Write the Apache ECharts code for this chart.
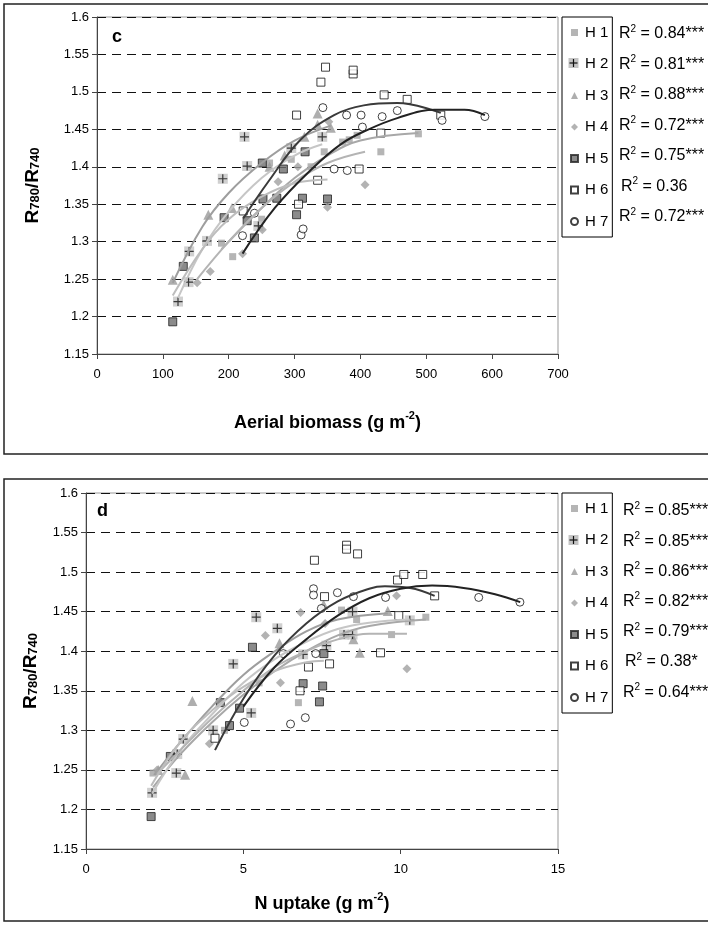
<!DOCTYPE html>
<html><head><meta charset="utf-8">
<script src="https://cdn.jsdelivr.net/npm/echarts@6/dist/echarts.min.js"></script>
<style>html,body{margin:0;padding:0;background:#fff}#c{width:708px;height:925px}</style>
</head><body><div id="c"></div>
<script>
// ---------- DATA ----------
const names = ['H 1','H 2','H 3','H 4','H 5','H 6','H 7'];
const r2Top = ['0.84***','0.81***','0.88***','0.72***','0.75***','0.36','0.72***'];
const r2Bot = ['0.85***','0.85***','0.86***','0.82***','0.79***','0.38*','0.64***'];

// Panel c: aerial biomass (g m-2) vs R780/R740
const h1Top = [[189,1.298],[206,1.28],[250,1.33],[262,1.405],[295,1.41],[325,1.40],[345,1.42],[373,1.433],[383,1.436],[395,1.442],[431,1.42],[488,1.444]];
const h2Top = [[123,1.22],[139,1.246],[140,1.287],[167,1.301],[191,1.384],[224,1.44],[228,1.401],[245,1.321],[295,1.425],[342,1.44]];
const h3Top = [[115,1.249],[169,1.336],[205,1.345],[262,1.40],[285,1.415],[315,1.44],[335,1.456],[335,1.471],[355,1.452]];
const h4Top = [[152,1.245],[172,1.26],[221,1.284],[251,1.316],[275,1.38],[305,1.40],[350,1.346],[352,1.46],[407,1.376]];
const h5Top = [[115,1.193],[131,1.267],[193,1.332],[228,1.328],[239,1.305],[251,1.405],[252,1.357],[273,1.358],[283,1.397],[303,1.336],[312,1.358],[316,1.42],[350,1.357]];
const h6Top = [[222,1.341],[303,1.469],[306,1.35],[335,1.382],[340,1.513],[347,1.533],[389,1.524],[389,1.529],[398,1.397],[431,1.445],[436,1.496],[471,1.49],[522,1.469]];
const h7Top = [[221,1.308],[239,1.338],[310,1.309],[313,1.317],[343,1.479],[360,1.397],[379,1.469],[380,1.395],[401,1.469],[403,1.453],[433,1.467],[456,1.475],[524,1.462],[589,1.467]];
// trend curves
const fit1Top = [[189,1.29],[250,1.345],[300,1.385],[350,1.415],[400,1.435],[488,1.445]];
const fit2Top = [[123,1.225],[160,1.29],[200,1.34],[250,1.385],[300,1.415],[342,1.43]];
const fit3Top = [[115,1.245],[160,1.32],[200,1.365],[250,1.405],[300,1.435],[355,1.455]];
const fit4Top = [[152,1.25],[200,1.30],[250,1.345],[300,1.38],[350,1.405],[407,1.42]];
const fit5Top = [[115,1.228],[160,1.29],[200,1.33],[250,1.36],[300,1.378],[350,1.383]];
const fit6Top = [[222,1.331],[260,1.38],[309,1.436],[360,1.469],[405,1.482],[456,1.485],[522,1.472]];
const fit7Top = [[221,1.284],[270,1.345],[325,1.396],[370,1.43],[410,1.449],[456,1.465],[512,1.476],[558,1.476],[589,1.469]];

// Panel d: N uptake (g m-2) vs R780/R740
const h1Bot = [[2.13,1.246],[4.4,1.3],[5.5,1.36],[6.75,1.335],[8.12,1.452],[8.6,1.44],[9.71,1.421],[10.8,1.443]];
const h2Bot = [[2.1,1.221],[2.87,1.246],[2.9,1.27],[3.09,1.289],[4.04,1.30],[4.68,1.384],[5.25,1.322],[5.41,1.443],[6.08,1.429],[6.9,1.396],[7.64,1.407],[8.2,1.421],[8.47,1.45],[8.47,1.421],[10.29,1.439]];
const h3Bot = [[2.3,1.25],[3.15,1.244],[3.38,1.337],[6.15,1.41],[7.55,1.459],[8.5,1.415],[8.7,1.398],[9.59,1.451]];
const h4Bot = [[2.26,1.25],[3.92,1.283],[5.7,1.42],[6.18,1.36],[6.82,1.449],[7.6,1.435],[9.87,1.47],[10.2,1.378]];
const h5Bot = [[2.07,1.191],[2.68,1.267],[4.27,1.335],[4.56,1.306],[4.88,1.328],[5.29,1.405],[6.9,1.359],[7.42,1.336],[7.52,1.356],[7.56,1.397]];
const h6Bot = [[4.1,1.29],[6.8,1.35],[7.07,1.38],[7.26,1.515],[7.58,1.469],[7.74,1.384],[8.28,1.534],[8.28,1.529],[8.63,1.523],[9.36,1.398],[9.9,1.49],[9.94,1.445],[10.1,1.497],[10.7,1.497],[11.08,1.47]];
const h7Bot = [[5.03,1.31],[6.27,1.397],[6.5,1.308],[6.97,1.316],[7.23,1.479],[7.23,1.471],[7.3,1.397],[7.48,1.454],[7.99,1.474],[8.5,1.469],[9.52,1.468],[12.48,1.468],[13.79,1.462]];
const fit1Bot = [[2.13,1.228],[3,1.27],[4,1.31],[5,1.345],[6,1.375],[7,1.4],[8,1.42],[9,1.432],[10.8,1.44]];
const fit2Bot = [[2.1,1.22],[3,1.275],[4,1.32],[5,1.36],[6,1.39],[7,1.412],[8,1.428],[9,1.436],[10.29,1.44]];
const fit3Bot = [[2.3,1.25],[3,1.285],[4,1.33],[5,1.37],[6,1.4],[7,1.425],[8,1.44],[9.59,1.448]];
const fit4Bot = [[2.26,1.245],[3,1.275],[4,1.315],[5,1.35],[6,1.38],[7,1.4],[8,1.415],[9,1.422],[10.2,1.422]];
const fit5Bot = [[2.07,1.23],[3,1.285],[4,1.325],[5,1.355],[6,1.375],[7,1.386],[7.56,1.388]];
const fit6Bot = [[4.1,1.275],[5,1.34],[6,1.395],[7,1.435],[8,1.463],[9,1.479],[9.5,1.482],[10.3,1.48],[11.08,1.47]];
const fit7Bot = [[5.0,1.33],[6,1.38],[7,1.415],[8,1.445],[9,1.467],[10,1.479],[11,1.483],[12,1.48],[13,1.472],[13.8,1.462]];

// ---------- STYLE ----------
const FONT = 'Liberation Sans, Arial, sans-serif';
const markerStyles = [
  {symbol:'rect', size:7, item:{color:'#a3a3a3'}},
  {symbol:'rect', size:10, item:{color:'#c4c4c4'}},
  {symbol:'triangle', size:10, item:{color:'#9a9a9a'}},
  {symbol:'diamond', size:9, item:{color:'#a0a0a0'}},
  {symbol:'rect', size:8, item:{color:'#6e6e6e', borderColor:'#222', borderWidth:1}},
  {symbol:'rect', size:8, item:{color:'#fff', borderColor:'#111', borderWidth:1}},
  {symbol:'circle', size:8, item:{color:'#fff', borderColor:'#111', borderWidth:1}}
];
const fitColors = ['#a8a8a8','#c6c6c6','#9e9e9e','#b4b4b4','#bdbdbd','#3a3a3a','#222'];

const topPts = [h1Top,h2Top,h3Top,h4Top,h5Top,h6Top,h7Top];
const topFits = [fit1Top,fit2Top,fit3Top,fit4Top,fit5Top,fit6Top,fit7Top];
const botPts = [h1Bot,h2Bot,h3Bot,h4Bot,h5Bot,h6Bot,h7Bot];
const botFits = [fit1Bot,fit2Bot,fit3Bot,fit4Bot,fit5Bot,fit6Bot,fit7Bot];

const series = [];
function addPanel(pts, fits, idx) {
  pts.forEach((d, i) => {
    const m = markerStyles[i];
    series.push({type:'scatter', name:names[i], xAxisIndex:idx, yAxisIndex:idx, data:d,
      symbol:m.symbol, symbolSize:m.size, itemStyle:m.item, z:2, silent:true});
    if (i === 1) {
      series.push({type:'scatter', name:names[i], xAxisIndex:idx, yAxisIndex:idx, data:d,
        symbol:'path://M0,5L10,5M5,0L5,10', symbolSize:9,
        itemStyle:{color:'rgba(0,0,0,0)', borderColor:'#111', borderWidth:1.2}, z:3, silent:true});
    }
  });
  fits.forEach((d, i) => {
    series.push({type:'line', name:'fit'+idx+'_'+i, xAxisIndex:idx, yAxisIndex:idx, data:d,
      smooth:0.4, showSymbol:false, symbol:'none', silent:true, z: i>=5 ? 5 : 4,
      lineStyle:{color:fitColors[i], width:2}});
  });
}
addPanel(topPts, topFits, 0);
addPanel(botPts, botFits, 1);

const grids = [
  {left:97, top:17, width:461, height:337},
  {left:86, top:493, width:472, height:356}
];
function yAx(gi, gap) {
  return {type:'value', gridIndex:gi, min:1.15, max:1.6, interval:0.05,
    axisLine:{show:true, lineStyle:{color:'#444', width:1}},
    axisTick:{show:true, inside:false, length:5, lineStyle:{color:'#444'}},
    axisLabel:{color:'#000', fontSize:13, fontFamily:FONT, margin:8, formatter:v=>String(+v.toFixed(2))},
    splitLine:{show:true, lineStyle:{color:'#111', type:[9,6], width:1}},
    name:'{b|R}{s|780}{b|/R}{s|740}', nameLocation:'middle', nameRotate:90, nameGap:gap,
    nameTextStyle:{rich:{b:{fontSize:19, fontWeight:'bold', fontFamily:FONT, color:'#000'},
      s:{fontSize:13, fontWeight:'bold', fontFamily:FONT, color:'#000', verticalAlign:'bottom'}}}
  };
}
function xAx(gi, max, interval, title, gap) {
  return {type:'value', gridIndex:gi, min:0, max:max, interval:interval,
    axisLine:{show:true, onZero:false, lineStyle:{color:'#444', width:1}},
    axisTick:{show:true, inside:false, length:5, lineStyle:{color:'#444'}},
    axisLabel:{color:'#000', fontSize:13, fontFamily:FONT, margin:14},
    splitLine:{show:false},
    name:title, nameLocation:'middle', nameGap:gap,
    nameTextStyle:{rich:{b:{fontSize:18, fontWeight:'bold', fontFamily:FONT, color:'#000', lineHeight:22, verticalAlign:'bottom'},
      s:{fontSize:11, fontWeight:'bold', fontFamily:FONT, color:'#000', lineHeight:12, verticalAlign:'top'}}}
  };
}

function legendFor(top) {
  return {left:562, top:top, orient:'vertical', data:names, selectedMode:false,
    itemWidth:7, itemHeight:7, itemGap:16.5, padding:[8,4,8,8],
    borderColor:'#000', borderWidth:1, backgroundColor:'#fff',
    textStyle:{fontSize:15, color:'#000', fontFamily:FONT, padding:[0,0,0,2]}};
}

const graphics = [];
// panel frames
graphics.push({type:'rect', shape:{x:4, y:4, width:720, height:450}, style:{fill:'none', stroke:'#222', lineWidth:1.5}, z:-10});
graphics.push({type:'rect', shape:{x:4, y:479, width:720, height:442}, style:{fill:'none', stroke:'#222', lineWidth:1.5}, z:-10});
graphics.push({type:'text', x:112, y:28, style:{text:'c', font:'bold 18px '+FONT, fill:'#000'}, z:10});
graphics.push({type:'text', x:97, y:502, style:{text:'d', font:'bold 18px '+FONT, fill:'#000'}, z:10});
function r2Texts(arr, x0, y0, step) {
  arr.forEach((t, i) => {
    graphics.push({type:'text', x:x0 + (t.indexOf('**')<0 ? 2 : 0), y:y0 + i*step,
      style:{text:'{r|R}{s|2}{r| = '+t+'}', rich:{
        r:{fontSize:16, fontFamily:FONT, fill:'#000', lineHeight:18, verticalAlign:'bottom'},
        s:{fontSize:10, fontFamily:FONT, fill:'#000', lineHeight:18, verticalAlign:'top'}},
        verticalAlign:'middle'}, z:10});
  });
}
r2Texts(r2Top, 619, 33, 30.5);
r2Texts(r2Bot, 623, 510, 30.2);
// H2 legend icon overlay (gray square with plus)
function plusIcon(cx, cy) {
  graphics.push({type:'rect', shape:{x:cx-5, y:cy-5, width:10, height:10}, style:{fill:'#c4c4c4'}, z:20});
  graphics.push({type:'line', shape:{x1:cx-4, y1:cy, x2:cx+4, y2:cy}, style:{stroke:'#111', lineWidth:1.2}, z:21});
  graphics.push({type:'line', shape:{x1:cx, y1:cy-4, x2:cx, y2:cy+4}, style:{stroke:'#111', lineWidth:1.2}, z:21});
}
plusIcon(573.5, 63);
plusIcon(573.5, 540);

const chart = echarts.init(document.getElementById('c'), null, {renderer:'canvas'});
chart.setOption({
  animation:false,
  backgroundColor:'#fff',
  grid: grids.map(g => Object.assign({show:true, borderColor:'#999', borderWidth:1, backgroundColor:'rgba(0,0,0,0)'}, g)),
  xAxis:[xAx(0, 700, 100, '{b|Aerial biomass (g m}{s|-2}{b|)}', 56), xAx(1, 15, 5, '{b|N uptake (g m}{s|-2}{b|)}', 42)],
  yAxis:[yAx(0, 55), yAx(1, 46)],
  legend:[legendFor(17), legendFor(493)],
  series: series,
  graphic: graphics
});
</script></body></html>
